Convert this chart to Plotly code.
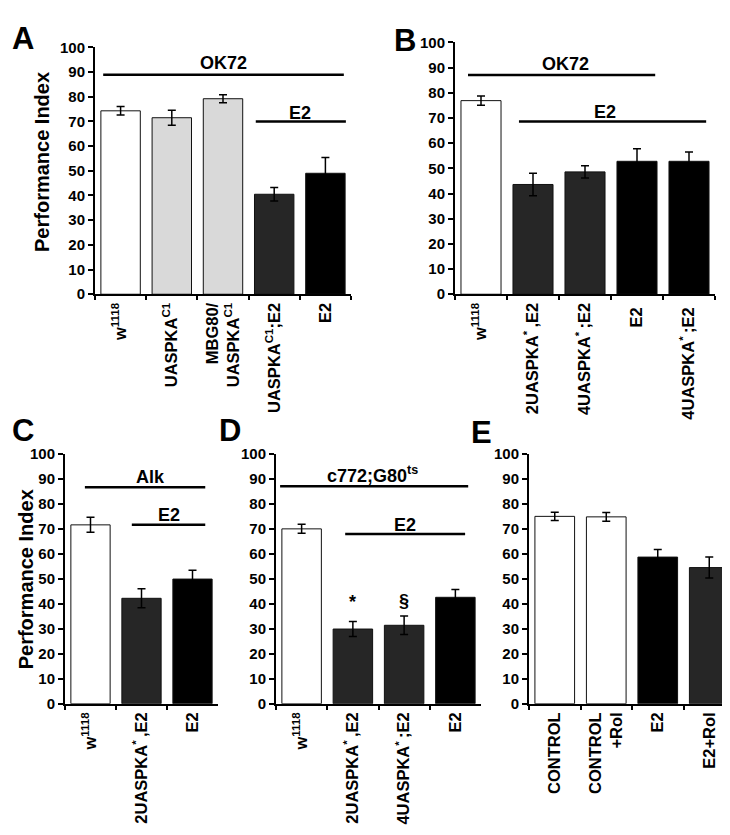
import plotly.graph_objects as go

# ---------------- data ----------------
A_labels = ["w<sup>1118</sup>", "UASPKA<sup>C1</sup>", "MBG80/<br>UASPKA<sup>C1</sup>", "UASPKA<sup>C1</sup>;E2", "E2"]
A_values = [74.3, 71.5, 79.2, 40.5, 49.0]
A_errors = [1.7, 3.0, 1.6, 2.7, 6.4]
A_colors = ["#ffffff", "#d9d9d9", "#d9d9d9", "#262626", "#000000"]

B_labels = ["w<sup>1118</sup>", "2UASPKA<sup>* </sup>,E2", "4UASPKA<sup>* </sup>;E2", "E2 ", "4UASPKA<sup>* </sup>;E2 "]
B_values = [76.9, 43.6, 48.6, 52.8, 52.8]
B_errors = [1.8, 4.5, 2.4, 5.0, 3.7]
B_colors = ["#ffffff", "#262626", "#262626", "#000000", "#000000"]

C_labels = ["w<sup>1118</sup>", "2UASPKA<sup>* </sup>,E2", "E2"]
C_values = [71.6, 42.2, 49.9]
C_errors = [3.0, 3.8, 3.5]
C_colors = ["#ffffff", "#262626", "#000000"]

D_labels = ["w<sup>1118</sup>", "2UASPKA<sup>* </sup>,E2", "4UASPKA<sup>* </sup>;E2", "E2"]
D_values = [70.0, 29.9, 31.4, 42.6]
D_errors = [1.8, 3.0, 3.7, 3.1]
D_colors = ["#ffffff", "#262626", "#262626", "#000000"]
D_marks = ["", "*", "§", ""]
D_mark_y = [None, 40.8, 41.0, None]

E_labels = ["CONTROL", "CONTROL<br>+Rol", "E2", "E2+Rol"]
E_values = [75.0, 74.8, 58.7, 54.5]
E_errors = [1.7, 1.8, 3.0, 4.2]
E_colors = ["#ffffff", "#ffffff", "#000000", "#262626"]

# group lines: (text, x0, x1, y_line, x_text, y_text) in category/data units
A_groups = [("OK72", -0.34, 4.36, 88.9, 2.0, 93.6), ("E2", 2.64, 4.40, 70.0, 3.5, 73.6)]
B_groups = [("OK72", -0.25, 3.35, 87.1, 1.63, 91.3), ("E2", 0.73, 4.33, 68.6, 2.38, 72.3)]
C_groups = [("Alk", -0.11, 2.25, 86.7, 1.17, 90.6), ("E2", 0.81, 2.25, 71.6, 1.54, 75.4)]
D_groups = [("c772;G80<sup>ts</sup>", -0.42, 3.25, 87.1, 1.39, 91.6), ("E2", 0.85, 3.19, 67.9, 2.02, 71.4)]
E_groups = []

FONT = "Liberation Sans, Arial, sans-serif"

panels = [
    ("A", A_labels, A_values, A_errors, A_colors, A_groups, [87, 343], [31, 283]),
    ("B", B_labels, B_values, B_errors, B_colors, B_groups, [447, 707], [26, 283]),
    ("C", C_labels, C_values, C_errors, C_colors, C_groups, [57, 210], [446, 701]),
    ("D", D_labels, D_values, D_errors, D_colors, D_groups, [268, 473], [446, 701]),
    ("E", E_labels, E_values, E_errors, E_colors, E_groups, [521, 727], [446, 701]),
]

W, H = 730, 835
fig = go.Figure()
layout = dict(
    width=W, height=H, margin=dict(l=0, r=0, t=0, b=0),
    paper_bgcolor="white", plot_bgcolor="white",
    showlegend=False, bargap=0.23,
    font=dict(family=FONT, color="black"),
    shapes=[], annotations=[],
)

for i, (name, labels, vals, errs, cols, groups, xpx, ypx) in enumerate(panels):
    n = i + 1
    xa = "x" if n == 1 else f"x{n}"
    ya = "y" if n == 1 else f"y{n}"
    fig.add_trace(go.Bar(
        x=labels, y=vals, xaxis=xa, yaxis=ya,
        marker=dict(color=cols, line=dict(color="#111111", width=1)),
        error_y=dict(type="data", array=errs, color="black", thickness=1.5, width=4),
    ))
    xkey = "xaxis" if n == 1 else f"xaxis{n}"
    ykey = "yaxis" if n == 1 else f"yaxis{n}"
    layout[xkey] = dict(
        domain=[xpx[0] / W, xpx[1] / W], anchor=ya, type="category",
        range=[-0.5, len(labels) - 0.5],
        showline=True, linecolor="black", linewidth=2,
        ticks="outside", tickson="boundaries", ticklen=4, tickwidth=2, tickcolor="black",
        tickangle=-90, tickfont=dict(size=16.5, family=FONT, weight="bold", color="black"),
        showgrid=False, zeroline=False, fixedrange=True,
    )
    layout[ykey] = dict(
        domain=[1 - ypx[1] / H, 1 - ypx[0] / H], anchor=xa,
        range=[0, 100], dtick=10, tick0=0,
        showline=True, linecolor="black", linewidth=2,
        ticks="outside", ticklen=5, tickwidth=2, tickcolor="black",
        tickfont=dict(size=15, family=FONT, weight="bold", color="black"),
        showgrid=False, zeroline=False, fixedrange=True,
    )
    for (txt, x0, x1, yl, xt, yt) in groups:
        layout["shapes"].append(dict(type="line", xref=xa, yref=ya, x0=x0, x1=x1, y0=yl, y1=yl,
                                     line=dict(color="black", width=2.5)))
        layout["annotations"].append(dict(text=txt, xref=xa, yref=ya, x=xt, y=yt, showarrow=False,
                                          xanchor="center", yanchor="middle",
                                          font=dict(size=18, family=FONT, weight="bold", color="black")))
    if name == "D":
        for k, (m, my) in enumerate(zip(D_marks, D_mark_y)):
            if m:
                layout["annotations"].append(dict(text=m, xref=xa, yref=ya, x=k, y=my, showarrow=False,
                                                  xanchor="center", yanchor="middle",
                                                  font=dict(size=18, family=FONT, weight="bold", color="black")))

# panel letters (paper coords from pixel positions)
letters = [("A", 2, 2), ("B", 384, 4), ("C", 2, 402), ("D", 209, 402), ("E", 461, 404)]
for t, px, py in letters:
    layout["annotations"].append(dict(text=t, xref="paper", yref="paper", x=px / W, y=1 - py / H,
                                      xanchor="left", yanchor="top", showarrow=False,
                                      font=dict(size=31, family=FONT, weight="bold", color="black")))

# y-axis titles
for cx, cy in [(34, 148), (18, 574)]:
    layout["annotations"].append(dict(text="Performance Index", xref="paper", yref="paper",
                                      x=cx / W, y=1 - cy / H, textangle=-90, showarrow=False,
                                      xanchor="center", yanchor="middle",
                                      font=dict(size=20, family=FONT, weight="bold", color="black")))

fig.update_layout(**layout)
fig.write_html("out.html")
